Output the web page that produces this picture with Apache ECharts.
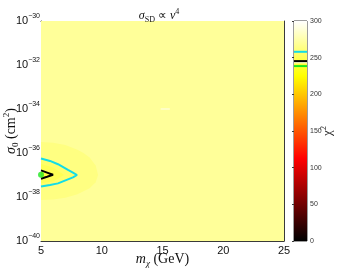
<!DOCTYPE html>
<html><head><meta charset="utf-8">
<script src="https://cdn.jsdelivr.net/npm/echarts@6/dist/echarts.min.js"></script>
<style>html,body{margin:0;padding:0;background:#fff}#c{width:338px;height:270px}</style>
</head><body><div id="c"></div>
<script>
// ---- data ----
const mChiTicks = [5, 10, 15, 20, 25];                 // GeV
const logSigmaTicks = [-40, -38, -36, -34, -32, -30];  // log10 sigma_0 (cm^2)
const chi2Ticks = [0, 50, 100, 150, 200, 250, 300];

// filled chi2 regions: [m_chi, log10 sigma0] boundaries and their chi2 level
const backgroundRegion = [[5,-40],[25,-40],[25,-30],[5,-30]];
const backgroundChi2 = 270;
const outerRegion = [[5,-35.5],[6,-35.53],[7,-35.64],[8,-35.85],[8.5,-36.0],[9,-36.21],[9.5,-36.57],[9.7,-37.0],[9.5,-37.33],[9,-37.6],[8,-37.88],[7,-38.03],[6,-38.11],[5,-38.14]];
const outerChi2 = 263;
const cyanContour = [[5,-36.25],[5.74,-36.36],[6.4,-36.51],[7.22,-36.77],[7.63,-36.89],[7.96,-37.0],[7.63,-37.11],[7.22,-37.2],[6.4,-37.38],[5.74,-37.45],[5,-37.52]];
const cyanChi2 = 256;
const middleRegion = [[5,-36.5],[6,-36.66],[6.9,-37.0],[6,-37.3],[5,-37.38]];
const middleChi2 = 250;
const blackContour = [[5,-36.79],[5.5,-36.89],[5.99,-36.99],[5.5,-37.08],[5,-37.17]];
const blackChi2 = 244;
const bestFit = [[5.0, -36.99]];
const whiteStreak = [[14.85,-34.0],[15.6,-34.0]];

// colorbar marker levels
const cyanLevel = 258;
const blackLevel = 245.3;
const whiteLevel = 243;
const greenLevel = 238.5;

// ---- styling helpers ----
function hot(v){
  const f = Math.max(0, Math.min(1, v/300));
  const c = x => Math.round(255*Math.max(0, Math.min(1, x)));
  return 'rgb(' + c(f/0.375) + ',' + c((f-0.375)/0.375) + ',' + c((f-0.75)/0.25) + ')';
}
function regionSeries(pts, chi2, z){
  return {
    type: 'custom', coordinateSystem: 'cartesian2d', xAxisIndex: 0, yAxisIndex: 0,
    data: pts, z: z, silent: true,
    renderItem: function(params, api){
      if (params.dataIndex !== 0) return null;
      return {type: 'polygon', shape: {points: pts.map(p => api.coord(p))}, style: {fill: hot(chi2)}};
    }
  };
}
function contourLine(pts, color, z){
  return {type: 'line', xAxisIndex: 0, yAxisIndex: 0, data: pts, showSymbol: false, symbol: 'none',
    lineStyle: {color: color, width: 2}, z: z, silent: true, animation: false};
}
function levelLine(level, color, w){
  return {type: 'line', xAxisIndex: 2, yAxisIndex: 2, data: [[0, level],[1, level]], symbol: 'none',
    lineStyle: {color: color, width: w}, z: 10, silent: true};
}

const serif = 'Liberation Serif';
const sans = 'Liberation Sans';
const axisCol = '#3a3a3a';
const txt = '#111';

const chart = echarts.init(document.getElementById('c'), null, {renderer: 'canvas'});
chart.setOption({
  animation: false,
  backgroundColor: '#ffffff',
  title: {
    text: '{i|σ}{sub|SD}{r| ∝ }{i|v}{sup|4}',
    left: 154, top: 3, textAlign: 'center',
    textStyle: {
      fontWeight: 'normal',
      rich: {
        i: {fontFamily: serif, fontStyle: 'italic', fontWeight: 'normal', fontSize: 12, color: txt, lineHeight: 16},
        r: {fontFamily: serif, fontWeight: 'normal', fontSize: 12, color: txt, lineHeight: 16},
        sub: {fontFamily: serif, fontWeight: 'normal', fontSize: 8, color: txt, verticalAlign: 'bottom', lineHeight: 8},
        sup: {fontFamily: serif, fontWeight: 'normal', fontSize: 8, color: txt, verticalAlign: 'top', lineHeight: 8}
      }
    }
  },
  grid: [
    {left: 41, top: 21, width: 243, height: 220, show: false, containLabel: false, outerBoundsMode: 'none'},
    {left: 294, top: 21, width: 13, height: 220, show: true, borderColor: axisCol, borderWidth: 1, containLabel: false, outerBoundsMode: 'none'}
  ],
  xAxis: [
    {type: 'value', gridIndex: 0, min: 5, max: 25, interval: 5, position: 'bottom',
     name: '{i|m}{sub|χ}{r| (GeV)}', nameLocation: 'middle', nameGap: 9, nameMoveOverlap: false,
     nameTextStyle: {rich: {
       i: {fontFamily: serif, fontStyle: 'italic', fontSize: 14, color: txt, lineHeight: 18},
       sub: {fontFamily: serif, fontStyle: 'italic', fontSize: 9, color: txt, verticalAlign: 'bottom', lineHeight: 9},
       r: {fontFamily: serif, fontSize: 14, color: txt, lineHeight: 18}}},
     axisLine: {show: true, onZero: false, lineStyle: {color: axisCol, width: 1}},
     axisTick: {show: true, inside: true, length: 3, lineStyle: {color: axisCol}},
     axisLabel: {fontFamily: sans, fontSize: 11, color: txt, margin: 4,
       formatter: v => mChiTicks.indexOf(v) >= 0 ? String(v) : ''},
     splitLine: {show: false}},
    {type: 'value', gridIndex: 0, min: 5, max: 25, interval: 5, position: 'top',
     axisLine: {show: true, onZero: false, lineStyle: {color: axisCol, width: 1}},
     axisTick: {show: true, inside: true, length: 3, lineStyle: {color: axisCol}},
     axisLabel: {show: false}, splitLine: {show: false}},
    {type: 'value', gridIndex: 1, min: 0, max: 1, show: false}
  ],
  yAxis: [
    {type: 'value', gridIndex: 0, min: -40, max: -30, interval: 2, position: 'left',
     name: '{i|σ}{sub|0}{r| (cm}{sup|2}{r|)}', nameLocation: 'middle', nameGap: 21, nameRotate: 90, nameMoveOverlap: false,
     nameTextStyle: {rich: {
       i: {fontFamily: serif, fontStyle: 'italic', fontSize: 14, color: txt, lineHeight: 18},
       r: {fontFamily: serif, fontSize: 14, color: txt, lineHeight: 18},
       sub: {fontFamily: serif, fontSize: 9, color: txt, verticalAlign: 'bottom', lineHeight: 9},
       sup: {fontFamily: serif, fontSize: 9, color: txt, verticalAlign: 'top', lineHeight: 9}}},
     axisLine: {show: true, onZero: false, lineStyle: {color: axisCol, width: 1}},
     axisTick: {show: true, inside: true, length: 3, lineStyle: {color: axisCol}},
     axisLabel: {margin: 1, formatter: v => logSigmaTicks.indexOf(v) >= 0 ? '{b|10}{s|' + (v < 0 ? '−' : '') + Math.abs(v) + '}' : '',
       rich: {b: {fontFamily: sans, fontSize: 11, color: txt, lineHeight: 16},
              s: {fontFamily: sans, fontSize: 7, color: txt, verticalAlign: 'top', lineHeight: 8}}},
     splitLine: {show: false}},
    {type: 'value', gridIndex: 0, min: -40, max: -30, interval: 2, position: 'right',
     axisLine: {show: true, onZero: false, lineStyle: {color: axisCol, width: 1}},
     axisTick: {show: true, inside: true, length: 3, lineStyle: {color: axisCol}},
     axisLabel: {show: false}, splitLine: {show: false}},
    {type: 'value', gridIndex: 1, min: 0, max: 300, interval: 50, position: 'right',
     name: '{c|χ}{s|2}', nameLocation: 'middle', nameGap: 13, nameRotate: 90, nameMoveOverlap: false,
     nameTextStyle: {rich: {
       c: {fontFamily: serif, fontSize: 13, color: '#222', lineHeight: 16},
       s: {fontFamily: serif, fontSize: 8, color: '#222', verticalAlign: 'top', lineHeight: 8}}},
     axisLine: {show: false},
     axisTick: {show: true, inside: true, length: 2, lineStyle: {color: axisCol}},
     axisLabel: {fontFamily: sans, fontSize: 7, color: '#333', margin: 3,
       formatter: v => chi2Ticks.indexOf(v) >= 0 ? String(v) : ''},
     splitLine: {show: false}}
  ],
  series: [
    regionSeries(backgroundRegion, backgroundChi2, 1),
    regionSeries(outerRegion, outerChi2, 2),
    regionSeries(cyanContour, cyanChi2, 3),
    regionSeries(middleRegion, middleChi2, 4),
    regionSeries(blackContour, blackChi2, 5),
    {type: 'line', xAxisIndex: 0, yAxisIndex: 0, data: whiteStreak, symbol: 'none',
     lineStyle: {color: '#fffef0', width: 1.2}, z: 6, silent: true},
    contourLine(cyanContour, '#12dce8', 7),
    contourLine(blackContour, '#000000', 8),
    {type: 'scatter', xAxisIndex: 0, yAxisIndex: 0, data: bestFit, symbol: 'circle', symbolSize: 6,
     itemStyle: {color: '#1ee61e'}, z: 9, silent: true, clip: false},
    {type: 'custom', coordinateSystem: 'cartesian2d', xAxisIndex: 2, yAxisIndex: 2,
     data: [[0, 300]], z: 1, silent: true,
     renderItem: function(params, api){
       const p0 = api.coord([0, 300]);
       const p1 = api.coord([1, 0]);
       return {type: 'rect', shape: {x: p0[0], y: p0[1], width: p1[0]-p0[0], height: p1[1]-p0[1]},
         style: {fill: new echarts.graphic.LinearGradient(0, 1, 0, 0, [
           {offset: 0, color: hot(0)}, {offset: 0.375, color: hot(112.5)},
           {offset: 0.75, color: hot(225)}, {offset: 1, color: hot(300)}])}};
     }},
    levelLine(cyanLevel, '#12dce8', 2),
    levelLine(whiteLevel, '#ffffff', 1),
    levelLine(blackLevel, '#000000', 2),
    levelLine(greenLevel, '#1ee61e', 2)
  ]
});
</script>
</body></html>
